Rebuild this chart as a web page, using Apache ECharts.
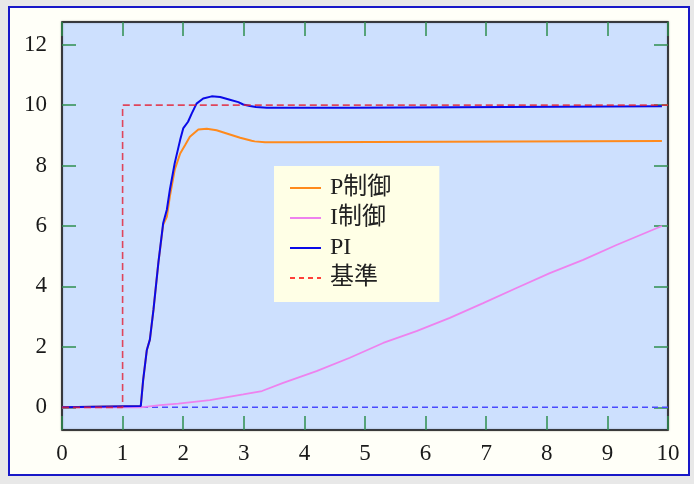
<!DOCTYPE html>
<html>
<head>
<meta charset="utf-8">
<script src="https://cdn.jsdelivr.net/npm/echarts@6/dist/echarts.min.js"></script>
<style>
  html, body { margin: 0; padding: 0; background: #e8e8e8; }
  #frame {
    position: absolute; left: 8px; top: 6px;
    width: 678px; height: 466px;
    border: 2px solid #1818c8; background: #fffff8;
  }
  #chart { position: absolute; left: 0; top: 0; width: 694px; height: 484px; }
</style>
</head>
<body>
<div id="frame"></div>
<div id="chart"></div>
<script>
// Step response of P, I and PI control against the reference input
const seriesNames = ['P制御', 'I制御', 'PI', '基準'];

const pTime = [0, 1.30, 1.34, 1.40, 1.45, 1.51, 1.59, 1.67, 1.73, 1.78, 1.86, 1.95, 2.03, 2.11, 2.25, 2.39, 2.55, 2.77, 2.94, 3.13, 3.18, 3.35, 3.90, 3.92, 9.90];
const pValue = [0, 0.04, 0.92, 1.90, 2.24, 3.24, 4.78, 6.05, 6.30, 6.98, 7.86, 8.40, 8.67, 8.95, 9.19, 9.22, 9.17, 9.03, 8.92, 8.82, 8.80, 8.77, 8.77, 8.81, 8.81];

const iTime = [0, 1.30, 1.62, 1.92, 2.44, 2.99, 3.30, 3.65, 4.20, 4.75, 5.30, 5.85, 6.40, 6.95, 7.50, 8.05, 8.60, 9.15, 9.90];
const iValue = [0, 0, 0.07, 0.12, 0.24, 0.43, 0.54, 0.81, 1.20, 1.64, 2.13, 2.52, 2.96, 3.45, 3.95, 4.44, 4.88, 5.37, 6.00];

const piTime = [0, 1.30, 1.34, 1.40, 1.45, 1.51, 1.59, 1.67, 1.73, 1.78, 1.86, 1.95, 2.00, 2.08, 2.14, 2.22, 2.33, 2.47, 2.61, 2.77, 2.91, 2.99, 3.10, 3.20, 3.38, 4.78, 4.80, 9.90];
const piValue = [0, 0.04, 0.92, 1.90, 2.24, 3.24, 4.78, 6.10, 6.54, 7.20, 8.08, 8.85, 9.23, 9.45, 9.72, 10.05, 10.22, 10.29, 10.27, 10.18, 10.10, 10.02, 9.97, 9.94, 9.91, 9.91, 9.96, 9.96];

const refTime = [0, 1, 1, 10];
const refValue = [0, 0, 10, 10];

const zeroTime = [0, 10];
const zeroValue = [0, 0];

const xTicks = [0, 1, 2, 3, 4, 5, 6, 7, 8, 9, 10];
const yTicks = [0, 2, 4, 6, 8, 10, 12];

const pair = (t, v) => t.map((x, i) => [x, v[i]]);

const labelFont = '"Liberation Serif", "DejaVu Serif", serif';
const tickGreen = '#2f8f4f';

const chart = echarts.init(document.getElementById('chart'), null, { renderer: 'canvas' });

const xBase = {
  type: 'value', min: 0, max: 10, interval: 1,
  splitLine: { show: false },
  axisLine: { show: false, onZero: false },
  axisTick: { show: true, inside: true, length: 14, lineStyle: { color: tickGreen, width: 1.5 } }
};
const yBase = {
  type: 'value', min: -0.75, max: 12.75,
  splitLine: { show: false },
  axisLine: { show: false, onZero: false },
  axisTick: { show: true, inside: true, length: 14, customValues: yTicks, lineStyle: { color: tickGreen, width: 1.5 } }
};

chart.setOption({
  backgroundColor: 'transparent',
  animation: false,
  grid: {
    left: 62, top: 22, right: 26, bottom: 54,
    show: true, backgroundColor: '#cde0fe',
    borderColor: '#111', borderWidth: 1.5,
    shadowColor: 'rgba(0,0,0,0.35)', shadowBlur: 2
  },
  xAxis: [
    Object.assign({}, xBase, {
      position: 'bottom',
      axisLabel: { show: true, margin: 12, fontSize: 23, color: '#1a1a1a', fontFamily: labelFont, customValues: xTicks,
        formatter: v => String(v) }
    }),
    Object.assign({}, xBase, { position: 'top', axisLabel: { show: false } })
  ],
  yAxis: [
    Object.assign({}, yBase, {
      position: 'left',
      axisLabel: { show: true, margin: 15, fontSize: 23, color: '#1a1a1a', fontFamily: labelFont, customValues: yTicks,
        formatter: v => String(v) }
    }),
    Object.assign({}, yBase, { position: 'right', axisLabel: { show: false } })
  ],
  legend: {
    orient: 'vertical', left: 274, top: 166,
    padding: [10, 48, 12, 15],
    backgroundColor: '#ffffe6',
    itemWidth: 31, itemHeight: 14, itemGap: 6,
    itemStyle: { opacity: 0 },
    textStyle: { fontSize: 24, color: '#222', fontFamily: '"Liberation Serif", "Noto Sans CJK JP", serif', padding: [0, 0, 0, 4] },
    data: [
      { name: 'P制御' },
      { name: 'I制御' },
      { name: 'PI' },
      { name: '基準', lineStyle: { color: '#ff0000', type: [5, 4], width: 1.5 } }
    ]
  },
  series: [
    {
      name: 'zero', type: 'line', data: pair(zeroTime, zeroValue),
      symbol: 'none', silent: true,
      lineStyle: { color: '#4a4aff', width: 1.5, type: [6, 4] }
    },
    {
      name: seriesNames[0], type: 'line', data: pair(pTime, pValue),
      symbol: 'none', lineStyle: { color: '#ff8a1c', width: 2 }, itemStyle: { color: '#ff8a1c' }
    },
    {
      name: seriesNames[1], type: 'line', data: pair(iTime, iValue),
      symbol: 'none', lineStyle: { color: '#ee82ee', width: 1.8 }, itemStyle: { color: '#ee82ee' }
    },
    {
      name: seriesNames[2], type: 'line', data: pair(piTime, piValue),
      symbol: 'none', lineStyle: { color: '#0a0ae8', width: 2 }, itemStyle: { color: '#0a0ae8' }
    },
    {
      name: seriesNames[3], type: 'line', data: pair(refTime, refValue),
      symbol: 'none', lineStyle: { color: 'rgba(228,30,50,0.8)', width: 1.6, type: [7, 4] },
      itemStyle: { color: '#ff0000' }
    }
  ]
});
</script>
</body>
</html>
